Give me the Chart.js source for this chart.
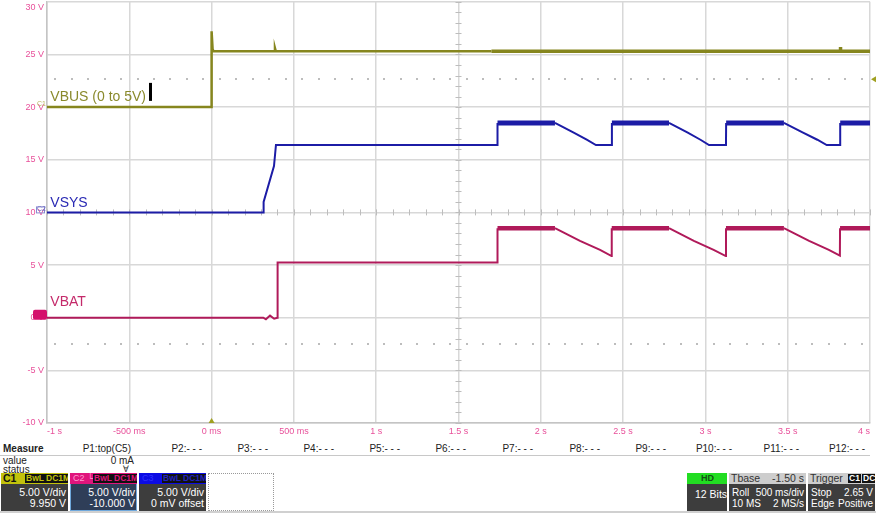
<!DOCTYPE html>
<html><head><meta charset="utf-8">
<script src="https://cdn.jsdelivr.net/npm/chart.js@4/dist/chart.umd.min.js"></script>
<style>
html,body{margin:0;padding:0;background:#fff;width:876px;height:513px;overflow:hidden;font-family:Arial,"Liberation Sans",sans-serif;}
#wrap{position:absolute;left:0;top:-12px;width:876px;height:451px;}
.t{position:absolute;font-size:10px;color:#222;white-space:nowrap;line-height:10px;}
.box{position:absolute;top:473px;height:38px;background:#3d3d3d;overflow:hidden;}
.hd{position:absolute;left:0;top:0;right:0;height:11px;}
.w{position:absolute;color:#fff;font-size:10.5px;line-height:11px;white-space:nowrap;}
.bd{position:absolute;top:1px;height:9px;background:#111;font-size:8.5px;line-height:9px;padding:0 1px;font-weight:bold;}
</style></head>
<body>
<div id="wrap"><canvas id="c" width="876" height="451"></canvas></div>
<div id="panel"></div>
<script>
// ---- axis ticks ----
const xTickValues = [-1, -0.5, 0, 0.5, 1, 1.5, 2, 2.5, 3, 3.5, 4];
const xTickLabels = ['-1 s', '-500 ms', '0 ms', '500 ms', '1 s', '1.5 s', '2 s', '2.5 s', '3 s', '3.5 s', '4 s'];
const yTickValues = [-10, -5, 0, 5, 10, 15, 20, 25, 30];
const yTickLabels = ['-10 V', '-5 V', '0 V', '5 V', '10 V', '15 V', '20 V', '25 V', '30 V'];

// ---- traces (display volts on screen grid) ----
const vbusTime = [-1, 0, 0, 0.006, 0.012, 0.38, 0.385, 0.39, 1.7, 3.818, 3.82, 3.822, 4];
const vbusVolt = [20, 20, 27.2, 25.5, 25.3, 25.3, 25.6, 25.3, 25.3, 25.3, 25.7, 25.3, 25.3];

const vsysTime = [-1, 0.314, 0.316, 0.379, 0.391, 1.736, 1.737, 2.086, 2.197, 2.279, 2.335, 2.431, 2.432, 2.779, 2.89, 2.97, 3.022, 3.125, 3.126, 3.477, 3.59, 3.68, 3.737, 3.818, 3.819, 4];
const vsysVolt = [10, 10, 11, 14.4, 16.4, 16.4, 18.5, 18.5, 17.6, 16.9, 16.4, 16.4, 18.5, 18.5, 17.6, 16.9, 16.4, 16.4, 18.5, 18.5, 17.6, 16.9, 16.4, 16.4, 18.5, 18.5];

const vbatTime = [-1, 0.314, 0.33, 0.355, 0.38, 0.4, 0.401, 1.736, 1.737, 2.086, 2.238, 2.36, 2.43, 2.431, 2.779, 2.93, 3.05, 3.124, 3.125, 3.477, 3.63, 3.75, 3.817, 3.818, 4];
const vbatVolt = [0, 0, -0.15, 0.2, -0.1, 0, 5.25, 5.25, 8.5, 8.5, 7.3, 6.45, 5.85, 8.5, 8.5, 7.3, 6.45, 5.85, 8.5, 8.5, 7.3, 6.45, 5.9, 8.5, 8.5];

const traceNames = ['VBUS (0 to 5V)', 'VSYS', 'VBAT'];
const traceColors = ['#86861e', '#1c1ca6', '#b01a5a'];
const labelColors = ['#8a8a2c', '#2a2ab4', '#c42a6a'];
// channel reference levels (screen volts) and trigger level
const channelZero = [20, 10, 0];
const triggerLevel = 22.65;
const dottedLevels = [22.65, -2.5];

const pts = (t, v) => t.map((x, i) => ({x: x, y: v[i]}));

const decor = {
  id: 'decor',
  beforeDatasetsDraw(chart) {
    const {ctx, chartArea: a, scales: {x, y}} = chart;
    ctx.save();
    ctx.fillStyle = '#bdbdbd';
    dottedLevels.forEach(l => {
      const py = Math.round(y.getPixelForValue(l));
      for (let t = -1 + 0.05; t < 4; t += 0.1) {
        const px = Math.round(x.getPixelForValue(t));
        ctx.fillRect(px - 1, py - 1, 2, 2);
      }
    });
    ctx.strokeStyle = '#bdbdbd';
    ctx.lineWidth = 1;
    const cy = y.getPixelForValue(10), cx = x.getPixelForValue(1.5);
    ctx.beginPath();
    for (let t = -1; t <= 4.001; t += 0.1) {
      const px = Math.round(x.getPixelForValue(t)) + 0.5;
      ctx.moveTo(px, cy - 3); ctx.lineTo(px, cy + 3);
    }
    for (let v = -10; v <= 30.001; v += 1) {
      const py = Math.round(y.getPixelForValue(v)) + 0.5;
      ctx.moveTo(cx - 3, py); ctx.lineTo(cx + 3, py);
    }
    ctx.stroke();
    ctx.restore();
  },
  afterDatasetsDraw(chart) {
    const {ctx, chartArea: a, scales: {x, y}} = chart;
    ctx.save();
    ctx.font = '14px Arial, "Liberation Sans", sans-serif';
    ctx.textBaseline = 'alphabetic';
    const labelV = [20.6, 10.5, 1.1];
    traceNames.forEach((n, i) => {
      ctx.fillStyle = labelColors[i];
      ctx.fillText(n, x.getPixelForValue(-0.98), y.getPixelForValue(labelV[i]));
    });
    const w = ctx.measureText(traceNames[0]).width;
    ctx.fillStyle = '#000';
    ctx.fillRect(x.getPixelForValue(-0.98) + w + 3, y.getPixelForValue(22.3), 3, 18);
    const m0 = y.getPixelForValue(channelZero[0]);
    ctx.font = '7px Arial'; ctx.fillStyle = '#b8b860';
    ctx.fillText('C1', a.left - 10, m0 - 1);
    const m1 = y.getPixelForValue(channelZero[1]);
    ctx.strokeStyle = '#8a8ad0'; ctx.lineWidth = 1;
    ctx.strokeRect(a.left - 10.5, m1 - 5.5, 8, 6);
    ctx.fillStyle = '#6a6ac0'; ctx.fillText('C2', a.left - 10, m1 - 1);
    const m2 = y.getPixelForValue(channelZero[2]);
    ctx.fillStyle = '#d4106c';
    ctx.beginPath();
    ctx.roundRect(a.left - 14, m2 - 8, 14, 10, 2);
    ctx.fill();
    const ty = y.getPixelForValue(triggerLevel);
    ctx.fillStyle = '#a0a020';
    ctx.beginPath();
    ctx.moveTo(a.right + 1, ty); ctx.lineTo(a.right + 6, ty - 3); ctx.lineTo(a.right + 6, ty + 3); ctx.closePath(); ctx.fill();
    const tx = x.getPixelForValue(0);
    ctx.beginPath();
    ctx.moveTo(tx, a.bottom - 5); ctx.lineTo(tx - 3, a.bottom); ctx.lineTo(tx + 3, a.bottom); ctx.closePath(); ctx.fill();
    ctx.restore();
  }
};

new Chart(document.getElementById('c'), {
  type: 'line',
  data: {
    datasets: [
      {label: traceNames[0], data: pts(vbusTime, vbusVolt), borderColor: traceColors[0], borderWidth: 2.5,
        segment: {borderWidth: c => c.p0.parsed.x >= 1.7 ? 3.5 : 2.5}},
      {label: traceNames[1], data: pts(vsysTime, vsysVolt), borderColor: traceColors[1], borderWidth: 2,
        segment: {borderWidth: c => (c.p0.parsed.y >= 18 && c.p1.parsed.y >= 18) ? 5 : 2}},
      {label: traceNames[2], data: pts(vbatTime, vbatVolt), borderColor: traceColors[2], borderWidth: 2,
        segment: {borderWidth: c => (c.p0.parsed.y >= 8 && c.p1.parsed.y >= 8) ? 4.5 : 2}}
    ]
  },
  options: {
    responsive: false, animation: false, devicePixelRatio: 1,
    elements: {point: {radius: 0}, line: {tension: 0, borderJoinStyle: 'miter'}},
    layout: {padding: {top: 0, right: 6, left: 0, bottom: 0}},
    plugins: {legend: {display: false}, tooltip: {enabled: false}},
    scales: {
      x: {
        type: 'linear', min: -1, max: 4,
        afterBuildTicks: s => { s.ticks = xTickValues.map(v => ({value: v})); },
        afterFit: s => { s.height = 16; },
        ticks: {callback: (v, i) => xTickLabels[i], color: '#e8509a', font: {size: 9, family: 'Arial'},
          align: 'inner', maxRotation: 0, autoSkip: false, padding: 3},
        grid: {color: '#d8d8d8', lineWidth: 1.5, drawTicks: false},
        border: {color: '#c4c4c4', width: 1.5}
      },
      y: {
        type: 'linear', min: -10, max: 30,
        afterBuildTicks: s => { s.ticks = yTickValues.map(v => ({value: v})); },
        afterFit: s => { s.width = 47; },
        ticks: {callback: (v, i) => i === yTickLabels.length - 1 ? ['', yTickLabels[i]] : yTickLabels[i],
          color: '#e8509a', font: {size: 9, family: 'Arial'}, padding: 3},
        grid: {color: '#d8d8d8', lineWidth: 1.5, drawTicks: false},
        border: {color: '#c4c4c4', width: 1.5}
      }
    }
  },
  plugins: [decor]
});

// ---- bottom measurement / channel panel ----
const measureCols = ['P1:top(C5)', 'P2:- - -', 'P3:- - -', 'P4:- - -', 'P5:- - -', 'P6:- - -', 'P7:- - -', 'P8:- - -', 'P9:- - -', 'P10:- - -', 'P11:- - -', 'P12:- - -'];
const measureRight = [131, 202, 268, 334, 400, 466, 533, 600, 666, 732, 799, 865];
let h = '';
h += '<div class="t" style="left:3px;top:444px;font-weight:bold">Measure</div>';
measureCols.forEach((c, i) => { h += `<div class="t" style="right:${876 - measureRight[i]}px;top:444px">${c}</div>`; });
h += '<div style="position:absolute;left:0;top:455px;width:870px;height:1px;background:#c8c8c8"></div>';
h += '<div class="t" style="left:3px;top:456px">value</div><div class="t" style="right:742px;top:456px">0 mA</div>';
h += '<div class="t" style="left:3px;top:465px">status</div><div class="t" style="right:747px;top:464px;font-size:9px">&#x2C6F;</div>';
function box(left, width, hdrBg, hdrHtml, lines, extra, fs) {
  let s = `<div class="box" style="left:${left}px;width:${width}px;${extra || ''}"><div class="hd" style="background:${hdrBg}">${hdrHtml}</div>`;
  const f = fs ? `font-size:${fs}px;` : '';
  lines.forEach((l, i) => {
    s += `<div class="w" style="left:3px;top:${14 + i * 11}px;${f}">${l[0]}</div><div class="w" style="right:2px;top:${14 + i * 11}px;${f}">${l[1]}</div>`;
  });
  return s + '</div>';
}
h += box(1, 67, '#c2c20c', '<span class="w" style="left:2px;top:0;color:#111;font-weight:bold">C1</span><span class="bd" style="left:24px;color:#c2c20c">BwL</span><span class="bd" style="left:44px;color:#c2c20c">DC1M</span>', [['', '5.00 V/div'], ['', '9.950 V']]);
h += box(70, 67, '#e0157c', '<span class="w" style="left:3px;top:0;color:#ff9ad0;font-size:9px">C2 &#x2514;</span><span class="bd" style="left:23px;color:#e0157c">BwL</span><span class="bd" style="left:43px;color:#e0157c">DC1M</span>', [['', '5.00 V/div'], ['', '-10.000 V']], 'background:#2f3e58;box-shadow:inset 0 0 0 1px #6fa8dc');
h += box(139, 67, '#0c0ce4', '<span class="w" style="left:3px;top:0;color:#3030ff;font-size:9px">C3</span><span class="bd" style="left:23px;color:#2222c0">BwL</span><span class="bd" style="left:43px;color:#2222c0">DC1M</span>', [['', '5.00 V/div'], ['', '0 mV offset']]);
h += '<div style="position:absolute;left:208px;top:473px;width:64px;height:36px;border:1px dotted #999"></div>';
h += box(687, 40, '#22dd22', '<span class="w" style="left:14px;top:0;color:#145014;font-weight:bold;font-size:9px">HD</span>', [], '');
h += '<div class="w" style="left:695px;top:489px">12 Bits</div>';
h += box(729, 77, '#cdcdcd', '<span class="w" style="left:2px;top:0;color:#333">Tbase</span><span class="w" style="right:2px;top:0;color:#333">-1.50 s</span>', [['Roll', '500 ms/div'], ['10 MS', '2 MS/s']], '', 10);
h += box(808, 67, '#cdcdcd', '<span class="w" style="left:2px;top:0;color:#333">Trigger</span><span class="bd" style="left:40px;color:#fff">C1</span><span class="bd" style="left:54px;color:#fff">DC</span>', [['Stop', '2.65 V'], ['Edge', 'Positive']], '', 10);
h += '<div style="position:absolute;left:0;top:511px;width:876px;height:2px;background:#d0d0d0"></div>';
document.getElementById('panel').innerHTML = h;
</script>
</body></html>
